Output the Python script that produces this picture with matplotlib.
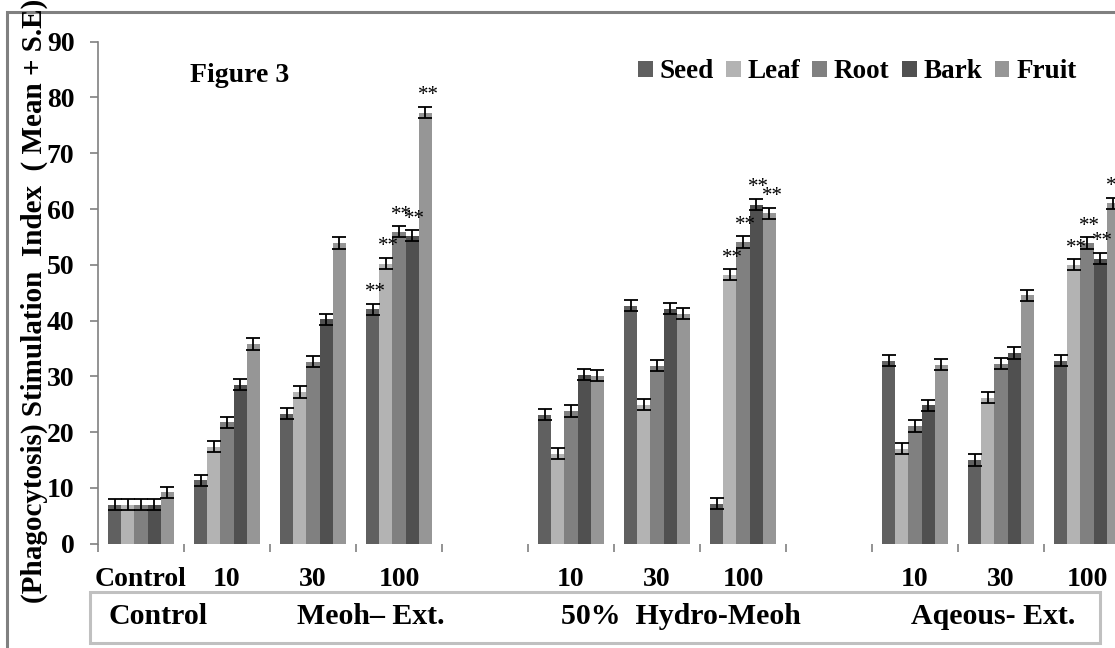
import matplotlib.pyplot as plt
import numpy as np
from matplotlib.patches import Rectangle

plt.rcParams['font.family'] = ['Liberation Serif', 'DejaVu Serif']
plt.rcParams['font.weight'] = 'bold'

# Категории по оси X (пустые места между группами экстрактов)
categories = ['Control', '10', '30', '100', '', '10', '30', '100', '', '10', '30', '100']
parts = ['Seed', 'Leaf', 'Root', 'Bark', 'Fruit']
colors = ['#606060', '#b3b3b3', '#808080', '#505050', '#969696']

# Значения индекса (np.nan - нет столбца)
seed = [7.0, 11.4, 23.3, 42.0, np.nan, 23.1, 42.7, 7.2, np.nan, 32.8, 15.0, 32.8]
leaf = [7.0, 17.4, 27.2, 50.2, np.nan, 16.1, 24.9, 48.2, np.nan, 17.0, 26.2, 50.0]
root = [7.0, 21.8, 32.6, 55.9, np.nan, 23.8, 31.9, 54.1, np.nan, 21.1, 32.3, 53.9]
bark = [7.0, 28.5, 40.2, 55.2, np.nan, 30.3, 42.1, 60.8, np.nan, 24.8, 34.2, 51.1]
fruit = [9.2, 35.8, 53.9, 77.3, np.nan, 30.1, 41.2, 59.2, np.nan, 32.1, 44.5, 61.0]
errors = 1.0

# Где стоят звездочки ** (индекс категории, индекс части)
stars = [(3, 0), (3, 1), (3, 2), (3, 3), (3, 4),
         (7, 1), (7, 2), (7, 3), (7, 4),
         (11, 1), (11, 2), (11, 3), (11, 4)]

groups = ['Control', 'Meoh\u2013 Ext.', '50%  Hydro-Meoh', 'Aqeous- Ext.']
group_x = [158, 371, 681, 993]

values = [seed, leaf, root, bark, fruit]

fig = plt.figure(figsize=(11.15, 6.48), dpi=100)
W, H = 1115, 648
ax = fig.add_axes([98 / W, 1 - 543.7 / H, 1032 / W, (543.7 - 41.7) / H])

x = np.arange(len(categories))
bw = 0.77 / 5
for i, (name, vals, col) in enumerate(zip(parts, values, colors)):
    pos = x - 0.77 / 2 + bw * (i + 0.5)
    vals = np.array(vals)
    ax.bar(pos, vals, width=bw, color=col, label=name, linewidth=0)
    ax.errorbar(pos, vals, yerr=errors, fmt='none', ecolor='black',
                elinewidth=1.3, capsize=4.7, capthick=1.3)

for ci, pi in stars:
    pos = x[ci] - 0.77 / 2 + bw * (pi + 0.5)
    v = values[pi][ci] + errors + 2.0
    ax.text(pos + 0.03, v, '**', ha='center', va='center', fontsize=15,
            fontweight='normal')

ax.set_xlim(-0.5, len(categories) - 0.5)
ax.set_ylim(0, 90)
ax.set_yticks(range(0, 91, 10))
ax.set_xticks(x)
ax.set_xticklabels(categories)
ax.set_xticks(np.arange(len(categories) + 1) - 0.5, minor=True)
ax.tick_params(axis='x', which='major', length=0, pad=17, labelsize=20)
ax.tick_params(axis='x', which='minor', length=6, width=1.2, color='#808080')
ax.tick_params(axis='y', length=6, width=1.2, color='#808080', pad=11,
               labelsize=20)
for s in ['top', 'right', 'bottom']:
    ax.spines[s].set_visible(False)
ax.spines['left'].set_color('#808080')
ax.spines['left'].set_linewidth(1.2)

ax.legend(ncol=5, frameon=False, loc='center right',
          bbox_to_anchor=(1090 / W, 1 - 72 / H), bbox_transform=fig.transFigure,
          fontsize=19.5, handlelength=0.55, handleheight=0.55,
          handletextpad=0.25, columnspacing=0.45, borderpad=0)

fig.text(240 / W, 1 - 76 / H, 'Figure 3', ha='center', va='center', fontsize=20)

fig.text(34 / W, 1 - 603 / H,
         '(Phagocytosis) Stimulation  Index  ( Mean + S.E)',
         rotation=90, ha='center', va='bottom', fontsize=21)

# Рамки
fig.patches.append(Rectangle((7 / W, -0.05), 1.2, 1 - 12 / H + 0.05,
                             transform=fig.transFigure, fill=False,
                             edgecolor='#808080', linewidth=2.2))
fig.patches.append(Rectangle((90 / W, 1 - 643 / H), 1010 / W, 51 / H,
                             transform=fig.transFigure, fill=False,
                             edgecolor='#c0c0c0', linewidth=2.2))
for g, gx in zip(groups, group_x):
    fig.text(gx / W, 1 - 617 / H, g, ha='center', va='center', fontsize=21.5)

plt.savefig('out.png', dpi=100)
